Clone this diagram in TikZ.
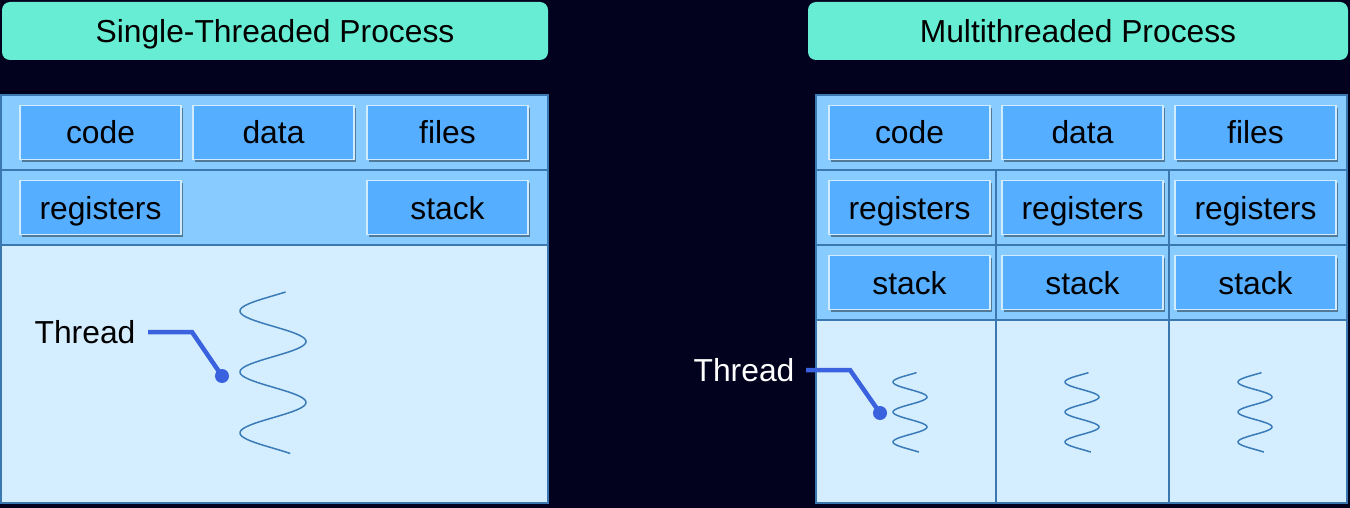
\documentclass[tikz,border=0pt]{standalone}
\usepackage{fontspec}
\setmainfont{Liberation Sans}
\usetikzlibrary{shadows}
\definecolor{bgc}{HTML}{03021E}
\definecolor{hdrc}{HTML}{66EDD4}
\definecolor{toprow}{HTML}{88CCFF}
\definecolor{lowrow}{HTML}{D4EEFF}
\definecolor{framec}{HTML}{3B78B2}
\definecolor{cellc}{HTML}{55AEFF}
\definecolor{celledge}{HTML}{D2ECFF}
\definecolor{threadc}{HTML}{3A62DE}
\definecolor{wavec}{HTML}{3A7BB8}
\begin{document}
\begin{tikzpicture}[x=1pt,y=-1pt,
  txt/.style={font=\fontsize{31.8}{38}\selectfont, text height=23pt, text depth=0pt},
  hdr/.style={txt, fill=hdrc, rounded corners=8pt, minimum height=58pt, inner sep=0pt, text=black},
  cell/.style={txt, fill=cellc, draw=celledge, line width=1.5pt, minimum width=161pt, minimum height=54pt, inner sep=0pt, text=black,
     drop shadow={shadow xshift=1.5pt, shadow yshift=-2.5pt, opacity=0.4, fill=black}},
  frame/.style={draw=framec, line width=2pt},
  threadline/.style={draw=threadc, line width=4.5pt},
  dot/.style={circle, fill=threadc, minimum size=14pt, inner sep=0pt},
  wave/.style={draw=wavec, line width=1.5pt}
]
\fill[bgc] (0,0) rectangle (1350,508);
\useasboundingbox (0,0) rectangle (1350,508);

% ---------- Single-threaded ----------
\node[hdr, minimum width=546pt] (hl) at (275,31) {Single-Threaded Process};
\fill[toprow] (1,95) rectangle (548,245);
\fill[lowrow] (1,245) rectangle (548,503);
\draw[frame] (1,170) -- (548,170);
\draw[frame] (1,245) -- (548,245);
\draw[frame] (1,95) rectangle (548,503);

\node[cell] (lcode) at (100.5,132.5) {code};
\node[cell] (ldata) at (273.5,132.5) {data};
\node[cell] (lfiles) at (447.5,132.5) {files};
\node[cell] (lreg) at (100.5,207.5) {registers};
\node[cell] (lstack) at (447.5,207.5) {stack};

\draw[wave] plot[domain=2.75:19.4, samples=200, smooth] ({273+33*sin(\x r)}, {311+(\x-4.71)*9.7});

\node[txt, text=black, inner sep=0pt] (tl) at (85,332) {Thread};
\coordinate (tls) at (148,332);
\coordinate (tlb) at (192,332);
\node[dot] (dl) at (222,376) {};
\draw[threadline] (tls) -- (tlb) -- (dl.center);

% ---------- Multithreaded ----------
\node[hdr, minimum width=540pt] (hr) at (1078,31) {Multithreaded Process};
\fill[toprow] (816,95) rectangle (1347,320);
\fill[lowrow] (816,320) rectangle (1347,503);
\draw[frame] (816,170) -- (1347,170);
\draw[frame] (816,245) -- (1347,245);
\draw[frame] (816,320) -- (1347,320);
\draw[frame] (996,170) -- (996,503);
\draw[frame] (1169,170) -- (1169,503);
\draw[frame] (816,95) rectangle (1347,503);

\node[cell] (rcode) at (909.5,132.5) {code};
\node[cell] (rdata) at (1082.5,132.5) {data};
\node[cell] (rfiles) at (1255.5,132.5) {files};
\node[cell] (rreg1) at (909.5,207.5) {registers};
\node[cell] (rreg2) at (1082.5,207.5) {registers};
\node[cell] (rreg3) at (1255.5,207.5) {registers};
\node[cell] (rst1) at (909.5,282.5) {stack};
\node[cell] (rst2) at (1082.5,282.5) {stack};
\node[cell] (rst3) at (1255.5,282.5) {stack};

\foreach \cx in {910,1082,1255}{
  \draw[wave] plot[domain=2.75:19.4, samples=150, smooth] ({\cx+17*sin(\x r)}, {382+(\x-4.71)*4.77});
}

\node[txt, text=white, inner sep=0pt] (tr) at (744,370) {Thread};
\coordinate (trs) at (806,370);
\coordinate (trb) at (850,370);
\node[dot] (dr) at (880,413) {};
\draw[threadline] (trs) -- (trb) -- (dr.center);
\end{tikzpicture}
\end{document}
